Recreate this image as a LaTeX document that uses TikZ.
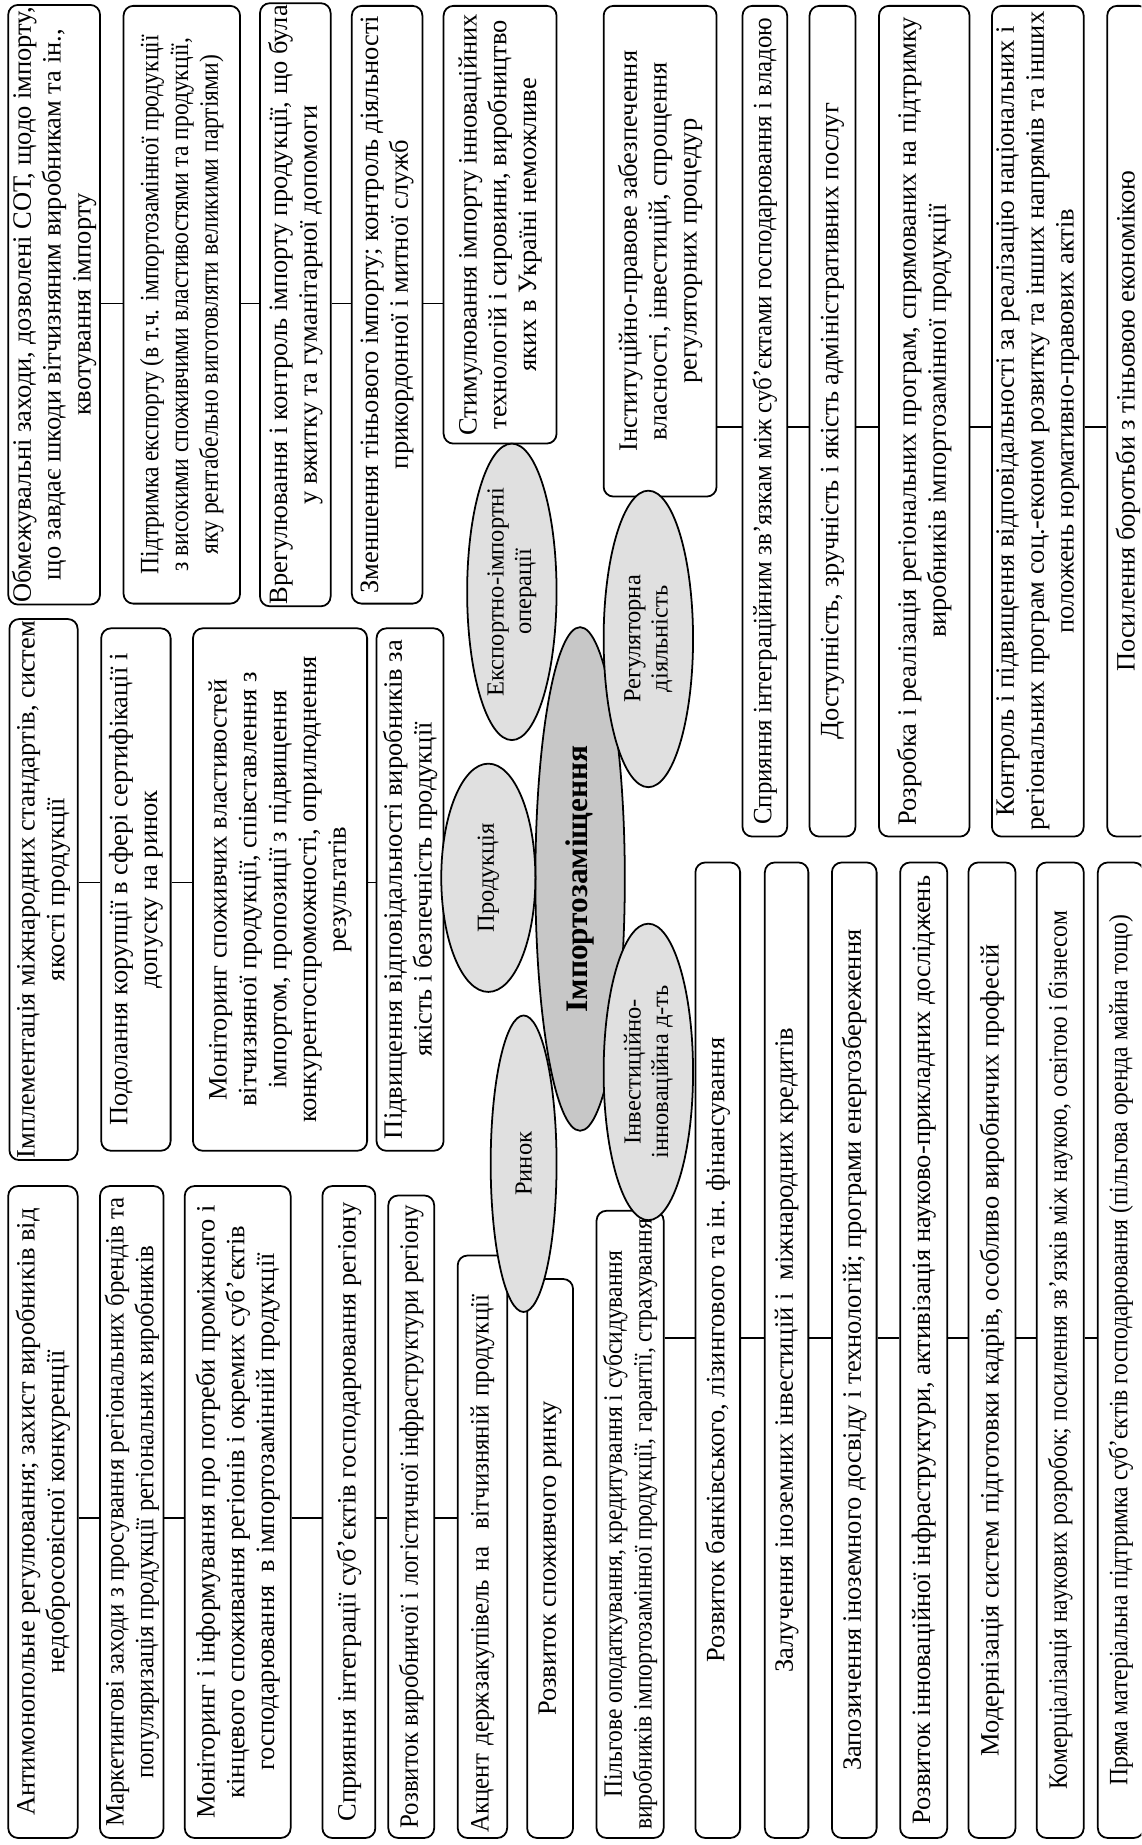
\documentclass[tikz,border=0pt]{standalone}
\usepackage{fontspec}
\setmainfont{Liberation Serif}
\newfontfamily\condA[FakeStretch=0.94]{Liberation Serif}
\newfontfamily\condB[FakeStretch=0.89]{Liberation Serif}
\usetikzlibrary{shapes.geometric}
\definecolor{satfill}{gray}{0.88}
\definecolor{corefill}{gray}{0.78}

\begin{document}
\begin{tikzpicture}[x=0.6pt, y=-0.6pt,
    box/.style 2 args={draw, line width=0.9pt, rounded corners=5pt, fill=white, rotate=90,
        align=center, inner sep=1pt, minimum width=#1*0.6pt, minimum height=#2*0.6pt,
        font=\fontsize{13.5}{15.2}\selectfont},
    nar/.style={font=\condA\fontsize{13.5}{15.2}\selectfont},
    narr/.style={font=\condB\fontsize{13.5}{15.2}\selectfont},
    oval/.style 2 args={ellipse, draw, line width=0.9pt, fill=satfill, rotate=90,
        align=center, inner sep=0pt, minimum width=#1*0.6pt, minimum height=#2*0.6pt,
        font=\fontsize{12.5}{14}\selectfont},
    link/.style={line width=0.8pt}]

    \useasboundingbox (0,0) rectangle (970,1568);
    \clip (0,0) rectangle (970,1568);

    \node[box={508}{78}] (a1) at (46,259) {Обмежувальні заходи, дозволені СОТ, щодо імпорту,\\ що завдає шкоди вітчизняним виробникам та ін.,\\ квотування імпорту};
    \node[box={508}{99}, narr] (a2) at (154.5,259) {Підтримка експорту (в т.ч. імпортозамінної продукції\\ з високими споживчими властивостями та продукції,\\ яку рентабельно виготовляти великими партіями)};
    \node[box={508}{60}] (a3) at (251,259) {Врегулювання і контроль імпорту продукції, що була\\ у вжитку та гуманітарної допомоги};
    \node[box={508}{60}] (a4) at (329,259) {Зменшення тіньового імпорту; контроль діяльності\\ прикордонної і митної служб};
    \node[box={372}{96}] (a5) at (425,191) {Стимулювання імпорту інноваційних\\ технологій і сировини, виробництво\\ яких в Україні неможливе};

    \node[box={417}{96}] (r0) at (561,213.5) {Інституційно-правове забезпечення\\ власності, інвестицій, спрощення\\ регуляторних процедур};
    \node[box={706}{38}, nar] (r1) at (650,358) {Сприяння інтеграційним зв’язкам між суб’єктами господарювання і владою};
    \node[box={706}{39}] (r2) at (707.5,358) {Доступність, зручність і якість адміністративних послуг};
    \node[box={706}{77}] (r3) at (785.5,358) {Розробка і реалізація регіональних програм, спрямованих на підтримку\\ виробників імпортозамінної продукції};
    \node[box={706}{78}] (r4) at (882,358) {Контроль і підвищення відповідальності за реалізацію національних і\\ регіональних програм соц.-економ розвитку та інших напрямів та інших\\ положень нормативно-правових актів};
    \node[box={706}{35}] (r5) at (958.5,358) {Посилення боротьби з тіньовою економікою};

    \node[box={444}{58}] (p1) at (37,756) {Імплементація міжнародних стандартів, систем\\ якості продукції};
    \node[box={444}{59}] (p2) at (115.5,756) {Подолання корупції в сфері сертифікації і\\ допуску на ринок};
    \node[box={444}{148}] (p3) at (238,756) {Моніторинг споживчих властивостей\\ вітчизняної продукції, співставлення з\\ імпортом, пропозиції з підвищення\\ конкурентоспроможності, оприлюднення\\ результатів};
    \node[box={444}{57}] (p4) at (348.5,756) {Підвищення відповідальності виробників за\\ якість і безпечність продукції};

    \node[box={554}{59}] (m1) at (36.5,1285) {Антимонопольне регулювання; захист виробників від\\ недобросовісної конкуренції};
    \node[box={554}{54}, nar] (m2) at (112,1285) {Маркетингові заходи з просування регіональних брендів та\\ популяризація продукції регіональних виробників};
    \node[box={554}{90}] (m3) at (202,1285) {Моніторинг і інформування про потреби проміжного і\\ кінцевого споживання регіонів і окремих суб’єктів\\ господарювання \ в імпортозамінній продукції};
    \node[box={554}{45}] (m4) at (296.5,1285) {Сприяння інтеграції суб’єктів господарювання регіону};
    \node[box={546}{39}, nar] (m5) at (349.5,1289) {Розвиток виробничої і логістичної інфраструктури регіону};
    \node[box={495}{42}, nar, align=left, text width=486*0.6pt] (m6) at (410,1314.5) {Акцент держзакупівель на \ вітчизняній продукції};
    \node[box={475}{39}] (m7) at (467.5,1324.5) {Розвиток споживчого ринку};

    \node[box={533}{57}, narr] (i1) at (535.5,1295.5) {Пільгове оподаткування, кредитування і субсидування\\ виробників імпортозамінної продукції, гарантії, страхування};
    \node[box={829}{38}] (i2) at (610,1147.5) {Розвиток банківського, лізингового та ін. фінансування};
    \node[box={829}{37}] (c1) at (668.5,1147.5) {Залучення іноземних інвестицій і \ міжнародних кредитів};
    \node[box={829}{38}] (c2) at (726,1147.5) {Запозичення іноземного досвіду і технологій; програми енергозбереження};
    \node[box={829}{40}] (c3) at (785,1147.5) {Розвиток інноваційної інфраструктури, активізація науково-прикладних досліджень};
    \node[box={829}{40}] (c4) at (843,1147.5) {Модернізація систем підготовки кадрів, особливо виробничих професій};
    \node[box={829}{40}, narr] (c5) at (901,1147.5) {Комерціалізація наукових розробок; посилення зв’язків між наукою, освітою і бізнесом};
    \node[box={829}{39}, narr] (c6) at (952.5,1147.5) {Пряма матеріальна підтримка суб’єктів господарювання (пільгова оренда майна тощо)};

    \coordinate (ya) at (0,258);
    \coordinate (yr) at (0,363);
    \coordinate (yp) at (0,750);
    \coordinate (ym) at (0,1290);
    \coordinate (yi) at (0,1137);

    \foreach \s/\t in {a1/a2,a2/a3,a3/a4,a4/a5}
        \draw[link] (\s.south |- ya) -- (\t.north |- ya);
    \foreach \s/\t in {r0/r1,r1/r2,r2/r3,r3/r4,r4/r5}
        \draw[link] (\s.south |- yr) -- (\t.north |- yr);
    \foreach \s/\t in {p1/p2,p2/p3,p3/p4}
        \draw[link] (\s.south |- yp) -- (\t.north |- yp);
    \foreach \s/\t in {m1/m2,m2/m3,m3/m4,m4/m5,m5/m6}
        \draw[link] (\s.south |- ym) -- (\t.north |- ym);
    \foreach \s/\t in {i1/i2,i2/c1,c1/c2,c2/c3,c3/c4,c4/c5,c5/c6}
        \draw[link] (\s.south |- yi) -- (\t.north |- yi);

    \node[oval={428}{76}, fill=corefill, font=\fontsize{16}{18}\selectfont\bfseries] (core) at (493,747) {Імпортозаміщення};
    \node[oval={252}{76}] (exim) at (435,503) {Експортно-імпортні\\ операції};
    \node[oval={252}{76}] (reg) at (551,543) {Регуляторна\\ діяльність};
    \node[oval={194}{80}] (prod) at (415,746) {Продукція};
    \node[oval={252}{56}] (mkt) at (445,989) {Ринок};
    \node[oval={252}{76}] (inv) at (551,911) {Інвестиційно-\\ інноваційна д-ть};

\end{tikzpicture}
\end{document}
